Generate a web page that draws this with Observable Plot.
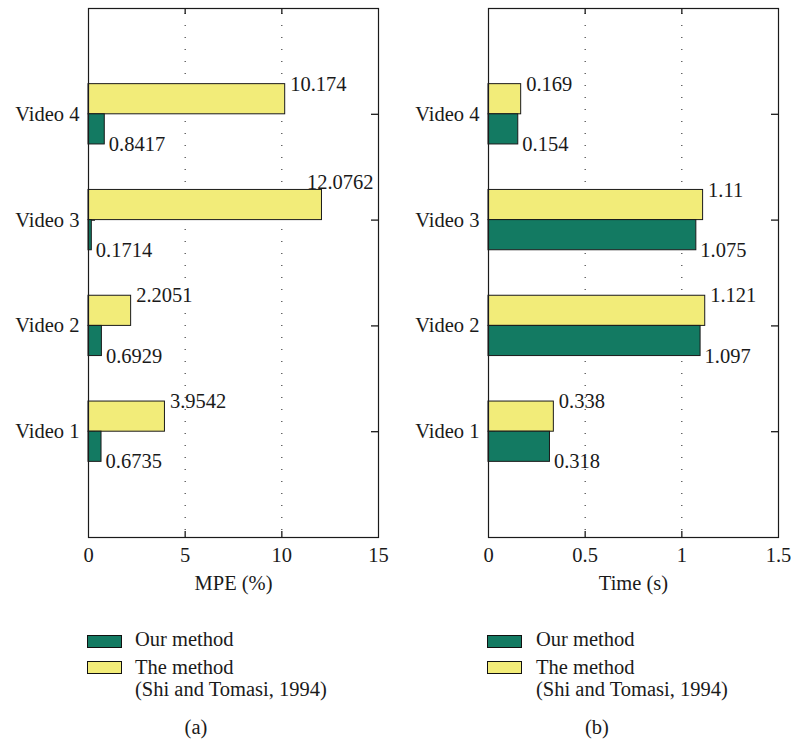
<!DOCTYPE html>
<html>
<head>
<meta charset="utf-8">
<script src="https://cdn.jsdelivr.net/npm/d3@7"></script>
<script src="https://cdn.jsdelivr.net/npm/@observablehq/plot@0.6"></script>
<style>
  html, body { margin: 0; padding: 0; background: #fff; }
  #page { position: relative; width: 791px; height: 741px; font-family: 'Liberation Serif', serif; color: #1a1a1a; }
  .panel { position: absolute; top: 0; }
  .panel text { font-family: 'Liberation Serif', serif; }
  .sw { position: absolute; width: 33px; height: 11px; border: 1px solid #111; }
  .lt { position: absolute; font-family: 'Liberation Serif', serif; font-size: 20.5px; line-height: 20px; white-space: nowrap; }
</style>
</head>
<body>
<div id="page"></div>
<script>
// Categories and series
const videos = ["Video 1", "Video 2", "Video 3", "Video 4"];
const seriesNames = ["Our method", "The method", "(Shi and Tomasi, 1994)"];
const panelLabels = ["(a)", "(b)"];

// (a) mean position error, percent
const mpeOurs = [0.6735, 0.6929, 0.1714, 0.8417];
const mpeShi = [3.9542, 2.2051, 12.0762, 10.174];
const mpeTicks = [0, 5, 10, 15];

// (b) processing time, seconds
const timeOurs = [0.318, 1.097, 1.075, 0.154];
const timeShi = [0.338, 1.121, 1.11, 0.169];
const timeTicks = [0, 0.5, 1, 1.5];

const GREEN = "#137a62";
const YELLOW = "#f2ec79";
const INK = "#1a1a1a";
const FONT = "'Liberation Serif', serif";
const FS = 20.5;

const W = 395, H = 600, mL = 88, mR = 17, mT = 8, mB = 63;
const half = 0.285; // bar thickness in category units

function panel(ours, shi, ticks, label) {
  const xmax = ticks[ticks.length - 1];
  const rows = videos.map((v, i) => ({k: i + 1, ours: ours[i], shi: shi[i]}));
  const pxY = (H - mT - mB) / 5;
  const pxX = (W - mL - mR) / xmax;
  const inner = ticks.slice(1, -1);
  const near = v => v / xmax > 0.8;   // labels that would run past the frame
  const fmt = v => String(v);
  const txt = {fontSize: FS, fontFamily: FONT, fill: INK};

  return Plot.plot({
    width: W, height: H,
    marginLeft: mL, marginRight: mR, marginTop: mT, marginBottom: mB,
    style: {fontFamily: FONT, fontSize: FS + "px", color: INK, background: "white"},
    x: {domain: [0, xmax]},
    y: {domain: [0, 5]},
    marks: [
      // dotted grid
      Plot.ruleX(inner, {stroke: INK, strokeDasharray: "1,11", strokeDashoffset: -5}),
      // inward tick marks on all four sides
      Plot.ruleX(inner, {y1: 5 - 6 / pxY, y2: 5, stroke: INK, strokeWidth: 1.3}),
      Plot.ruleX(inner, {y1: 0, y2: 6 / pxY, stroke: INK, strokeWidth: 1.3}),
      Plot.ruleY([1, 2, 3, 4], {x1: xmax - 7 / pxX, x2: xmax, stroke: INK, strokeWidth: 1.3}),
      Plot.ruleY([1, 2, 3, 4], {x1: 0, x2: 7 / pxX, stroke: INK, strokeWidth: 1.3}),
      // bars
      Plot.rect(rows, {x1: 0, x2: "shi", y1: d => d.k, y2: d => d.k + half, fill: YELLOW, stroke: INK, strokeWidth: 1}),
      Plot.rect(rows, {x1: 0, x2: "ours", y1: d => d.k - half, y2: d => d.k, fill: GREEN, stroke: INK, strokeWidth: 1}),
      // value labels
      Plot.text(rows.filter(d => !near(d.shi)), {x: "shi", y: d => d.k + half, text: d => fmt(d.shi), textAnchor: "start", dx: 5, ...txt}),
      Plot.text(rows.filter(d => near(d.shi)), {x: xmax, y: d => d.k + half, text: d => fmt(d.shi), textAnchor: "end", dx: -5, dy: -8, ...txt}),
      Plot.text(rows, {x: "ours", y: d => d.k - half, text: d => fmt(d.ours), textAnchor: "start", dx: 4, ...txt}),
      // frame
      Plot.frame({stroke: INK, strokeWidth: 1.2}),
      // axes
      Plot.axisX({anchor: "bottom", ticks: ticks, tickSize: 0, tickPadding: 10, tickFormat: d => String(d), label: null, fontSize: FS, fontFamily: FONT}),
      Plot.axisY({anchor: "left", ticks: [1, 2, 3, 4], tickSize: 0, tickPadding: 9, tickFormat: d => videos[d - 1], label: null, fontSize: FS, fontFamily: FONT}),
      Plot.text([label], {frameAnchor: "bottom", dy: 52, text: d => d, ...txt})
    ]
  });
}

const page = document.getElementById("page");

function place(el, left) {
  el.classList.add("panel");
  el.style.left = left + "px";
  page.appendChild(el);
}

function legend(swLeft, textLeft, capCenter, cap) {
  const add = (text, cls, css) => {
    const d = document.createElement("div");
    d.textContent = text;
    d.className = cls;
    Object.assign(d.style, css);
    page.appendChild(d);
  };
  add("", "sw", {left: swLeft + "px", top: "635px", background: GREEN});
  add("", "sw", {left: swLeft + "px", top: "661px", background: YELLOW});
  add(seriesNames[0], "lt", {left: textLeft + "px", top: "629px"});
  add(seriesNames[1], "lt", {left: textLeft + "px", top: "657px"});
  add(seriesNames[2], "lt", {left: textLeft + "px", top: "679px"});
  add(cap, "lt", {left: (capCenter - 40) + "px", width: "80px", top: "717px", textAlign: "center"});
}

place(panel(mpeOurs, mpeShi, mpeTicks, "MPE (%)"), 0);
place(panel(timeOurs, timeShi, timeTicks, "Time (s)"), 400);
legend(87, 135, 196, panelLabels[0]);
legend(487, 536, 597, panelLabels[1]);
</script>
</body>
</html>
